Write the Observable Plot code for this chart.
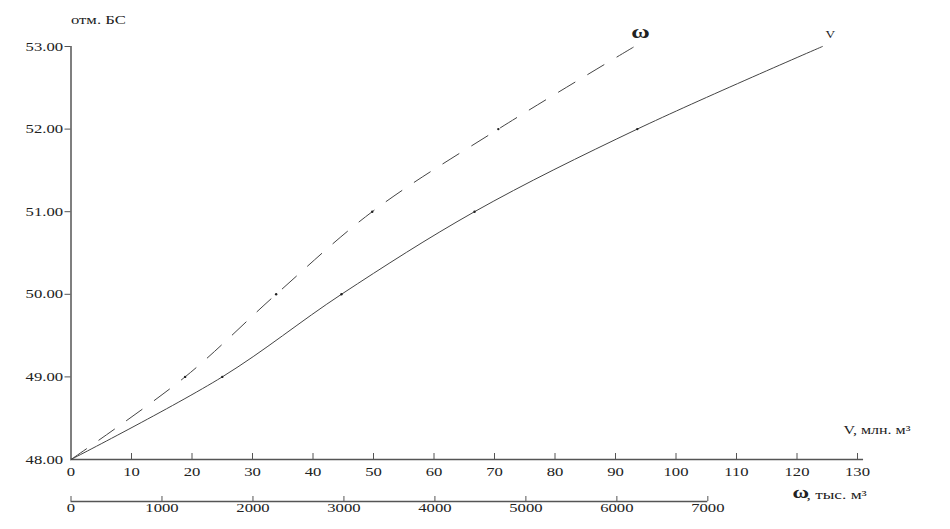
<!DOCTYPE html>
<html><head><meta charset="utf-8">
<script src="https://cdn.jsdelivr.net/npm/d3@7"></script>
<script src="https://cdn.jsdelivr.net/npm/@observablehq/plot@0.6"></script>
<style>
body{margin:0;background:#fff;}
svg text{font-family:'Liberation Serif','Times New Roman',serif !important;}
</style>
</head><body><div id="chart"></div>
<script>
// Elevation (отм. БС, m)
const levels = [48, 49, 50, 51, 52, 53];
// Volume V, млн. м³ at each elevation
const volume = [0, 25, 44.7, 66.7, 93.6, 124.2];
// Area ω, тыс. м³ at each elevation
const area = [0, 1254, 2255, 3311, 4697, 6194];
// Tick labels
const yTicks = [48, 49, 50, 51, 52, 53];
const vTicks = [0, 10, 20, 30, 40, 50, 60, 70, 80, 90, 100, 110, 120, 130];
const omegaTicks = [0, 1000, 2000, 3000, 4000, 5000, 6000, 7000];
// ω units per unit of the shared horizontal (V) scale
const omegaPerV = 66.5;

const vData = levels.map((h, i) => ({h, x: volume[i]}));
const wData = levels.map((h, i) => ({h, x: area[i] / omegaPerV}));

const font = "'Liberation Serif', 'Times New Roman', serif";
const axisColor = "#555";
const lineColor = "#444";

const chart = Plot.plot({
  width: 950, height: 529,
  marginLeft: 70.5, marginRight: 93, marginTop: 46, marginBottom: 70,
  style: {fontFamily: font, fontSize: "12.5px", color: "#222", background: "#fff"},
  x: {domain: [0, 130], axis: null},
  y: {domain: [48, 53], axis: null},
  marks: [
    // y axis
    Plot.ruleX([0], {stroke: axisColor, strokeWidth: 1.5}),
    Plot.axisY(yTicks.slice(1), {tickSize: 6, tickFormat: () => "", stroke: axisColor, label: null}),
    Plot.axisY(yTicks, {tickSize: 0, tickPadding: 8, tickFormat: d => d.toFixed(2), fill: "#222", label: null}),
    // V axis
    Plot.ruleY([48], {x1: 0, x2: 131, stroke: axisColor, strokeWidth: 1.5}),
    Plot.axisX(vTicks.slice(1), {tickSize: -6, tickFormat: () => "", stroke: axisColor, label: null}),
    Plot.axisX(vTicks, {tickSize: 0, tickPadding: 8, tickFormat: d => String(d), fill: "#222", label: null}),
    // ω axis
    Plot.ruleY([48], {x1: 0, x2: omegaTicks[omegaTicks.length - 1] / omegaPerV, dy: 42, stroke: axisColor, strokeWidth: 1.5}),
    Plot.axisX(omegaTicks.map(w => w / omegaPerV), {tickSize: -5, tickFormat: () => "", dy: 42, stroke: axisColor, label: null}),
    Plot.axisX(omegaTicks.map(w => w / omegaPerV), {tickSize: 0, tickPadding: 2, dy: 42, tickFormat: d => String(Math.round(d * omegaPerV / 1000) * 1000), fill: "#222", label: null}),
    // curves
    Plot.line(vData, {x: "x", y: "h", curve: "catmull-rom", stroke: lineColor, strokeWidth: 1}),
    Plot.line(wData, {x: "x", y: "h", curve: "catmull-rom", stroke: lineColor, strokeWidth: 1, strokeDasharray: "19,15"}),
    Plot.dot(vData.slice(1, 5), {x: "x", y: "h", r: 1.2, fill: "#222"}),
    Plot.dot(wData.slice(1, 5), {x: "x", y: "h", r: 1.2, fill: "#222"}),
    // curve labels
    Plot.text(vData.slice(-1), {x: "x", y: "h", text: () => "V", dx: 8, dy: -12, fontSize: 10}),
    Plot.text(wData.slice(-1), {x: "x", y: "h", text: () => "ω", dx: 6, dy: -15, fontSize: 19, fontWeight: "bold"}),
    // axis titles
    Plot.text(["отм. БС"], {frameAnchor: "top-left", text: d => d, dy: -31, textAnchor: "start", fontSize: 12.5}),
    Plot.text(["V, млн. м³"], {frameAnchor: "bottom-right", text: d => d, dx: -14, dy: -26, textAnchor: "start", fontSize: 12}),
    Plot.text(["ω"], {frameAnchor: "bottom-right", text: d => d, dx: -65, dy: 38, textAnchor: "start", fontSize: 17, fontWeight: "bold"}),
    Plot.text([", тыс. м³"], {frameAnchor: "bottom-right", text: d => d, dx: -51, dy: 39, textAnchor: "start", fontSize: 13})
  ]
});
document.getElementById("chart").append(chart);
// the reference lettering is horizontally stretched
const stretch = 1.33;
chart.querySelectorAll("text").forEach(t => {
  const w = t.getComputedTextLength();
  if (w > 0) {
    t.setAttribute("textLength", (w * stretch).toFixed(2));
    t.setAttribute("lengthAdjust", "spacingAndGlyphs");
  }
});
</script>
</body></html>
